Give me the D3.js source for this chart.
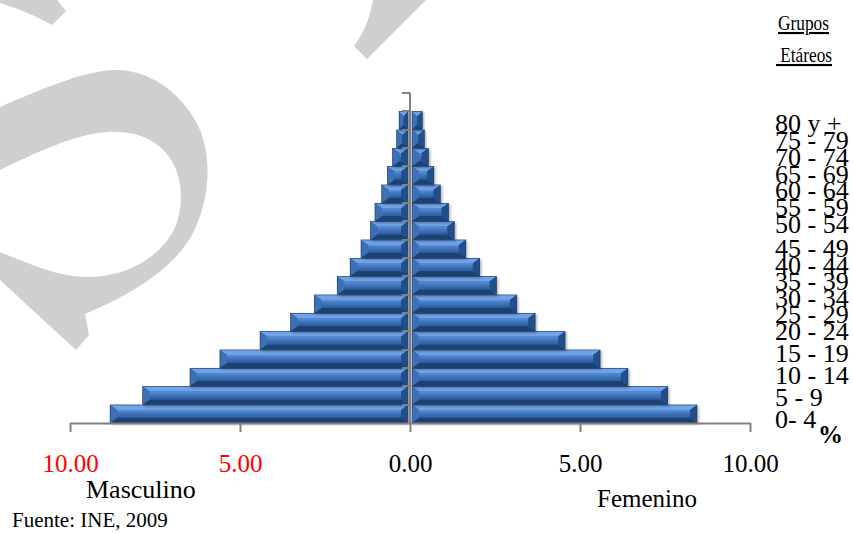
<!DOCTYPE html>
<html><head><meta charset="utf-8">
<script src="https://cdn.jsdelivr.net/npm/d3@7"></script>
<style>
html,body{margin:0;padding:0;background:#fff;}
svg{display:block;}
text{font-family:"Liberation Serif","Times New Roman",serif;}
</style></head>
<body>
<svg id="chart" width="853" height="533"></svg>
<script>
// ---- data ----
const ageGroups = ["0- 4","5 - 9","10 - 14","15 - 19","20 - 24","25 - 29","30 - 34","35 - 39","40 - 44","45 - 49","50 - 54","55 - 59","60 - 64","65 - 69","70 - 74","75 - 79","80 y +"];
const maleValues = [8.82,7.86,6.47,5.59,4.41,3.51,2.81,2.14,1.76,1.44,1.16,1.03,0.83,0.66,0.51,0.39,0.32];
const femaleValues = [8.44,7.58,6.41,5.59,4.56,3.68,3.14,2.54,2.05,1.64,1.30,1.13,0.89,0.70,0.54,0.42,0.36];
const tickValues = [-10,-5,0,5,10];
const tickLabels = ["10.00","5.00","0.00","5.00","10.00"];
const tickColors = ["#ff0000","#ff0000","#000","#000","#000"];

const svg = d3.select("#chart");
const defs = svg.append("defs");

// watermark
const wm = svg.append("g").attr("fill","#cfcfcf");
wm.append("path").attr("d","M0,0 L57,0 L66,11 L52,25 C40,18 20,9 0,3 Z");
wm.append("path").attr("d","M373,0 C370,18 364,33 354,46 L367,59 L426,0 Z");
wm.append("path").attr("d",
  "M0,107 C40,90 80,72 113,70 C150,68 185,95 200,130 C212,160 210,200 192,235 C172,270 130,295 85,314 " +
  "L89,335 L76,350 L0,280 L0,252 C25,262 55,276 85,277 C125,278 160,258 175,228 C186,200 182,165 160,147 " +
  "C145,134 125,131 107,132 C75,134 35,153 0,170 Z");

// scales
const x = d3.scaleLinear().domain([-10,10]).range([70,750]);
const xM = d3.scaleLinear().domain([10,0]).range([70,410]);
const xF = d3.scaleLinear().domain([0,10]).range([410,750]);
const yDomain = [""].concat(ageGroups.slice().reverse());
const y = d3.scaleBand().domain(yDomain).range([93,423]).paddingInner(0.03).paddingOuter(0.015);

// gradients / filters
const faceG = defs.append("linearGradient").attr("id","face").attr("x1",0).attr("y1",0).attr("x2",0).attr("y2",1);
faceG.append("stop").attr("offset","0%").attr("stop-color","#5b92db");
faceG.append("stop").attr("offset","35%").attr("stop-color","#4579c0");
faceG.append("stop").attr("offset","100%").attr("stop-color","#2d5c9c");
const f = defs.append("filter").attr("id","sh").attr("x","-10%").attr("y","-20%").attr("width","130%").attr("height","160%");
f.append("feDropShadow").attr("dx",1.5).attr("dy",1.5).attr("stdDeviation",1).attr("flood-color","#000").attr("flood-opacity",0.3);

function bevelBar(g, bx0, by0, w, h){
  const b = Math.min(5, h/3), s = Math.min(7, w/2);
  const gg = g.append("g").attr("filter","url(#sh)");
  gg.append("rect").attr("x",bx0).attr("y",by0).attr("width",w).attr("height",h).attr("fill","#2c5d9e");
  const P = pts => pts.map(p=>p.join(",")).join(" ");
  const x1=bx0, x2=bx0+w, y1=by0, y2=by0+h;
  gg.append("polygon").attr("points",P([[x1,y1],[x2,y1],[x2-s,y1+b],[x1+s,y1+b]])).attr("fill","#6fa3e8");
  gg.append("polygon").attr("points",P([[x1,y2],[x2,y2],[x2-s,y2-b],[x1+s,y2-b]])).attr("fill","#1e4273");
  gg.append("polygon").attr("points",P([[x1,y1],[x1+s,y1+b],[x1+s,y2-b],[x1,y2]])).attr("fill","#3d70b6");
  gg.append("polygon").attr("points",P([[x2,y1],[x2-s,y1+b],[x2-s,y2-b],[x2,y2]])).attr("fill","#24508a");
  if (w-2*s > 0) gg.append("rect").attr("x",x1+s).attr("y",y1+b).attr("width",w-2*s).attr("height",h-2*b).attr("fill","url(#face)");
  gg.append("rect").attr("x",x1).attr("y",y1).attr("width",w).attr("height",h).attr("fill","none").attr("stroke","#1b3a66").attr("stroke-width",0.6);
}

const bars = svg.append("g");
ageGroups.forEach((a,i)=>{
  const yy = y(a), h = y.bandwidth();
  bevelBar(bars, xM(maleValues[i]), yy, 408 - xM(maleValues[i]), h);
  bevelBar(bars, 412, yy, xF(femaleValues[i]) - 412, h);
});

// vertical axis with ticks at band boundaries
const vax = svg.append("g").attr("stroke","#808080").attr("stroke-width",2);
vax.append("line").attr("x1",410).attr("x2",410).attr("y1",93).attr("y2",423);
yDomain.forEach(c=>{
  const yy = Math.round(y(c) - y.step()*y.paddingInner()/2);
  vax.append("line").attr("x1",402).attr("x2",410).attr("y1",yy).attr("y2",yy);
});

// horizontal axis
const xAxis = d3.axisBottom(x).tickValues(tickValues).tickSize(9).tickSizeOuter(0)
  .tickFormat((d,i)=>tickLabels[i]);
const gx = svg.append("g").attr("transform","translate(0,423)").call(xAxis);
gx.select(".domain").attr("stroke","#808080").attr("stroke-width",2);
gx.selectAll(".tick line").attr("stroke","#808080").attr("stroke-width",2);
gx.selectAll(".tick text").attr("font-family","Liberation Serif, Times New Roman, serif")
  .attr("font-size",25).attr("dy",0).attr("y",49).attr("fill",(d,i)=>tickColors[i]);

// age group labels (right side, tight lines as in the original)
const labelY = d3.scaleLinear().domain([0,4,9,10,16]).range([428,340,257,233,132]);
svg.append("g").selectAll("text").data(ageGroups).join("text")
  .attr("x",775).attr("y",(d,i)=>labelY(i)).attr("font-size",26).attr("fill","#000").text(d=>d);

// titles
svg.append("text").attr("x",778).attr("y",30).attr("font-size",21).attr("text-decoration","underline")
  .attr("textLength",51).attr("lengthAdjust","spacingAndGlyphs").text("Grupos");
svg.append("text").attr("x",776).attr("y",62).attr("font-size",21).attr("text-decoration","underline")
  .attr("xml:space","preserve").style("white-space","pre")
  .attr("textLength",56).attr("lengthAdjust","spacingAndGlyphs").text(" Etáreos");
svg.append("text").attr("x",818).attr("y",443).attr("font-size",25).attr("font-weight","bold").text("%");
svg.append("text").attr("x",86).attr("y",498).attr("font-size",26).text("Masculino");
svg.append("text").attr("x",597).attr("y",507).attr("font-size",25).text("Femenino");
svg.append("text").attr("x",12).attr("y",527).attr("font-size",21).text("Fuente: INE, 2009");
</script>
</body></html>
